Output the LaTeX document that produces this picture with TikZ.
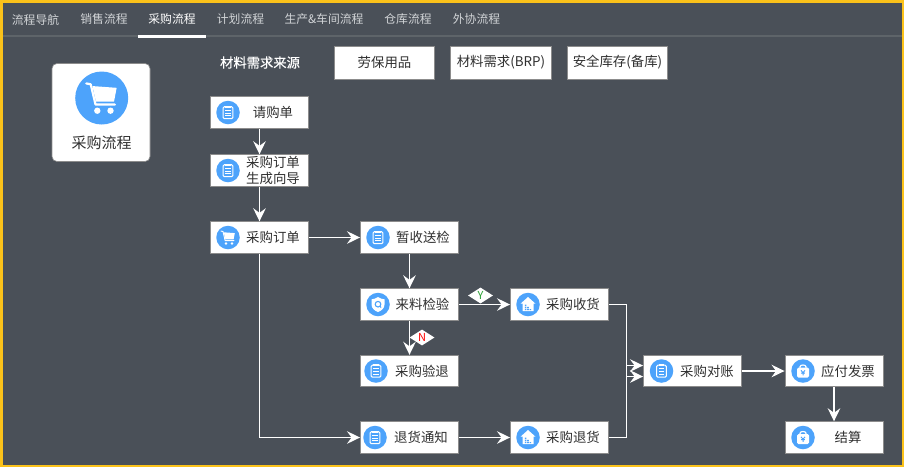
\documentclass[tikz,border=0pt]{standalone}
\usepackage{fontspec}
\setmainfont{Noto Sans CJK SC}
\newfontfamily\medfont[FakeBold=0.4]{Noto Sans CJK SC}
\usetikzlibrary{arrows.meta,shapes.geometric}
\definecolor{bgc}{HTML}{4A5058}
\definecolor{framec}{HTML}{FBC21A}
\definecolor{iconc}{HTML}{4DA3FB}
\definecolor{tabc}{HTML}{D2D5D8}
\definecolor{sepc}{HTML}{5E6469}
\definecolor{txtc}{HTML}{303030}
\definecolor{edgec}{HTML}{8C8C8C}
\tikzset{
  flowbox/.style={draw=edgec,line width=.9pt,fill=white,inner sep=0pt,minimum width=98pt,minimum height=31.5pt},
  topbox/.style={draw=edgec,line width=.6pt,fill=white,inner sep=0pt,minimum width=100.5pt,minimum height=33pt},
  boxtext/.style={text=txtc,font=\fontsize{13.4}{17}\selectfont,inner sep=0pt,align=center},
  tabtext/.style={text=tabc,font=\fontsize{11.8}{14}\selectfont,inner sep=0pt},
  flow/.style={draw=white,line width=1.8pt,-{Stealth[length=13pt,width=12.5pt,inset=4.5pt]}},
  flag/.style={diamond,fill=white,draw=none,minimum width=25pt,minimum height=16pt,inner sep=0pt,aspect=1.6,font=\fontsize{11}{12}\selectfont},
  dot/.style={fill=iconc,draw=none,circle,minimum size=23.5pt,inner sep=0pt},
  pics/docicon/.style={code={
    \draw[white,line width=1pt,rounded corners=1.2pt] (-4.8,-5.8) rectangle (4.8,6.2);
    \fill[white] (-2.6,-7) rectangle (2.6,-4.8);
    \draw[white,line width=1pt] (-2.6,-2.2) -- (2.6,-2.2) (-2.6,.5) -- (2.6,.5) (-2.6,3.2) -- (2.6,3.2);
  }},
  pics/carticon/.style={code={
    \draw[white,line width=.95pt,line cap=round,line join=round] (-7,-6.4) -- (-5,-6) -- (-2.8,3.2) -- (6,3.2);
    \fill[white] (-4.2,-5.2) -- (6.8,-4.4) -- (5.6,1.9) -- (-2.6,1.9) -- cycle;
    \fill[white] (-2,6) circle (1.45) (4,6) circle (1.45);
  }},
  pics/bigcarticon/.style={code={
    \draw[white,line width=2.2pt,line cap=round,line join=round] (-7,-6.4) -- (-5,-6) -- (-2.8,3.2) -- (6,3.2);
    \fill[white] (-4.2,-5.2) -- (6.8,-4.4) -- (5.6,1.9) -- (-2.6,1.9) -- cycle;
    \fill[white] (-2,6) circle (1.45) (4,6) circle (1.45);
  }},
  pics/shieldicon/.style={code={
    \fill[white] (0,-7.5) .. controls (2.5,-5.8) and (4.5,-5.4) .. (6.5,-5.2) -- (6.5,0) .. controls (6.5,4) and (3,6.5) .. (0,7.5) .. controls (-3,6.5) and (-6.5,4) .. (-6.5,0) -- (-6.5,-5.2) .. controls (-4.5,-5.4) and (-2.5,-5.8) .. (0,-7.5) -- cycle;
    \draw[iconc,line width=1.1pt] (0,-.3) circle (2.8);
    \draw[iconc,line width=1.1pt] (1.8,1.7) -- (3.2,3);
  }},
  pics/houseicon/.style={code={
    \fill[white] (0,-7.5) -- (7.5,-.8) -- (5.5,-.8) -- (5.5,6.5) -- (-5.5,6.5) -- (-5.5,-.8) -- (-7.5,-.8) -- cycle;
    \fill[iconc] (-3.2,.2) rectangle (-1.6,1.6) (-3.2,2.4) rectangle (-1.6,3.8) (-3.2,4.6) rectangle (-1.6,5.6)
                 (-.8,2.4) rectangle (.8,3.8) (-.8,4.6) rectangle (.8,5.6) (1.6,4.6) rectangle (3.2,5.6);
  }},
  pics/bagicon/.style={code={
    \draw[white,line width=1.2pt] (-3,-2) -- (-3,-4.2) .. controls (-3,-6.6) and (3,-6.6) .. (3,-4.2) -- (3,-2);
    \fill[white,rounded corners=1.4pt] (-6,-3.4) rectangle (6,6.6);
    \draw[iconc,line width=1pt] (-2,-.6) -- (0,1.6) -- (2,-.6) (0,1.6) -- (0,4.4) (-1.8,2.2) -- (1.8,2.2);
  }},
}
\begin{document}
\begin{tikzpicture}[x=1pt,y=-1pt]
\useasboundingbox (0,0) rectangle (904,467);
\fill[framec] (0,0) rectangle (904,467);
\fill[bgc] (2.6,2.6) rectangle (901.6,464.6);
\fill[sepc] (2.6,35) rectangle (901.6,37.4);
\fill[white] (138,34.8) rectangle (206,37.6);
% tabs
\node[tabtext] (t1) at (35.5,19.5) {流程导航};
\node[tabtext] (t2) at (104,19.5) {销售流程};
\node[tabtext,text=white] (t3) at (172,19.5) {采购流程};
\node[tabtext] (t4) at (240.5,19.5) {计划流程};
\node[tabtext] (t5) at (324,19.5) {生产\&车间流程};
\node[tabtext] (t6) at (408,19.5) {仓库流程};
\node[tabtext] (t7) at (476.5,19.5) {外协流程};
% card
\node[draw=edgec,line width=.6pt,fill=white,rounded corners=5pt,minimum width=98pt,minimum height=98pt,inner sep=0pt] (card) at (101,112.5) {};
\node[fill=iconc,circle,minimum size=53pt,inner sep=0pt] (carddot) at (101.7,98) {};
\pic[scale=2.2] at (101.7,97.5) {bigcarticon};
\node[text=txtc,font=\fontsize{15}{18}\selectfont,inner sep=0pt] (cardt) at (101.5,142.5) {采购流程};
% source row
\node[text=white,font=\medfont\fontsize{13.3}{16}\selectfont,inner sep=0pt] (src) at (260,62.5) {材料需求来源};
\node[topbox] (s1) at (384.5,62.5) {};
\node[boxtext] at (s1) {劳保用品};
\node[topbox] (s2) at (501,62.5) {};
\node[boxtext] at (s2) {材料需求(BRP)};
\node[topbox] (s3) at (617.5,62.5) {};
\node[boxtext] at (s3) {安全库存(备库)};
% flow boxes
\newcommand{\stepnode}[7]{%
  \node[flowbox] (#1) at (#2,#3) {};
  \node[dot] (#1d) at (#4,#3) {};
  \pic at (#4,#3) {#5};
  \node[boxtext] (#1t) at (#6,#3) {#7};
}
\stepnode{qg}{259.5}{112.5}{228}{docicon}{273}{请购单}
\stepnode{xd}{259.5}{170.5}{228}{docicon}{273}{采购订单\\[-.5pt]生成向导}
\stepnode{dd}{259.5}{237.5}{228}{carticon}{273}{采购订单}
\stepnode{zs}{409.5}{237.5}{378}{docicon}{423}{暂收送检}
\stepnode{jy}{409.5}{304.5}{378}{shieldicon}{422.5}{来料检验}
\stepnode{sh}{559.5}{304.5}{528}{houseicon}{573}{采购收货}
\stepnode{yt}{409.5}{371}{376}{docicon}{422}{采购验退}
\stepnode{tz}{409.5}{437.5}{375}{docicon}{421}{退货通知}
\stepnode{th}{559.5}{437.5}{528}{houseicon}{573}{采购退货}
\stepnode{dz}{692.5}{371}{661.5}{docicon}{707}{采购对账}
\stepnode{fp}{834}{371}{803}{bagicon}{848}{应付发票}
\stepnode{js}{834}{437.5}{803}{bagicon}{848}{结算}
% connectors
\draw[flow] (qg.south) -- (xd.north);
\draw[flow] (xd.south) -- (dd.north);
\draw[flow] (dd.east) -- (zs.west);
\draw[flow] (zs.south) -- (jy.north);
\draw[flow] (jy.east) -- (sh.west);
\draw[flow] (jy.south) -- (yt.north);
\draw[flow] (dd.south) |- (tz.west);
\draw[flow] (tz.east) -- (th.west);
\draw[flow] (sh.east) -- ++(17.5,0) |- ([yshift=-5.5pt]dz.west);
\draw[flow] (th.east) -- ++(17.5,0) |- ([yshift=5.5pt]dz.west);
\draw[flow] (dz.east) -- (fp.west);
\draw[flow] (fp.south) -- (js.north);
% flags
\node[flag,text={rgb,255:red,40;green,160;blue,50}] (fy) at (480.5,295.5) {Y};
\node[flag,text=red] (fn) at (422,337.5) {N};
\end{tikzpicture}
\end{document}
